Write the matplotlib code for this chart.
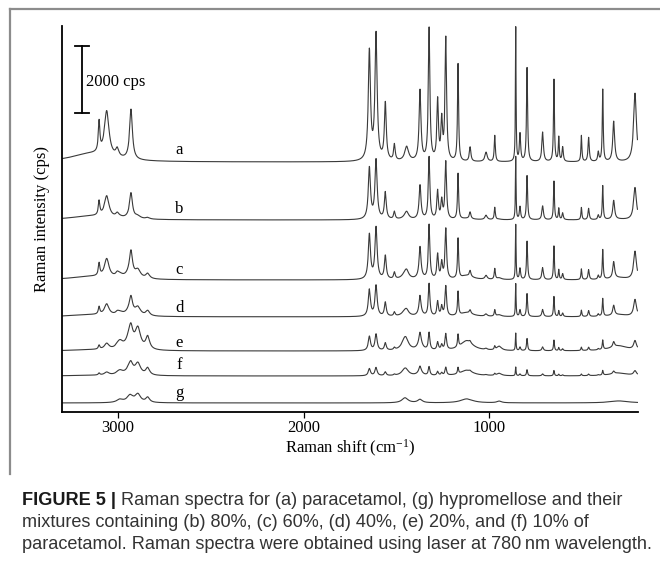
import matplotlib
matplotlib.use("Agg")
import matplotlib.pyplot as plt
import numpy as np
from matplotlib.lines import Line2D

# spectra: a = paracetamol, g = hypromellose, b-f mixtures
labels = ["a", "b", "c", "d", "e", "f", "g"]
offsets = [7460, 5730, 3940, 2840, 1820, 1075, 270]      # cps, baseline of each trace
label_y = [7820, 6060, 4240, 3105, 2060, 1400, 570]
para_scale = [1.0, 0.47, 0.41, 0.245, 0.13, 0.065, 0.0]
hpmc_scale = [0.0, 0.3, 1.0, 1.0, 2.5, 1.4, 1.0]

para_pos = [3150, 3102, 3061, 3004, 2930, 1645, 1609, 1559, 1510, 1444, 1372,
            1323, 1277, 1255, 1233, 1167, 1102, 1016, 969, 856, 833, 795, 711,
            650, 624, 603, 502, 463, 411, 387, 328, 213]
para_height = [240, 900, 1350, 240, 1500, 3250, 3750, 1700, 480, 430, 2100,
               3950, 1780, 1150, 3650, 2900, 430, 280, 780, 4000, 820, 2800, 880,
               2450, 720, 430, 780, 720, 280, 2150, 1200, 2050]
para_width = [250, 10, 30, 20, 18, 14, 14, 12, 10, 25, 12,
              10, 10, 10, 10, 7, 10, 15, 7, 4, 8, 7, 10,
              6, 6, 8, 6, 8, 8, 6, 12, 18]

hpmc_pos = [2990, 2935, 2893, 2840, 1453, 1372, 1120, 945, 300]
hpmc_height = [90, 210, 240, 150, 150, 100, 120, 50, 60]
hpmc_width = [40, 40, 35, 25, 40, 30, 80, 30, 120]

xticks = [3000, 2000, 1000]

plt.rcParams["font.family"] = "Liberation Serif"
plt.rcParams["mathtext.default"] = "regular"


def band_sum(x, pos, height, width):
    y = np.zeros_like(x)
    for c, h, w in zip(pos, height, width):
        y += h / (1 + ((x - c) / (w / 2.0)) ** 2)
    return y


wn = np.arange(200, 3300.5, 0.5)
para = band_sum(wn, para_pos, para_height, para_width)
hpmc = band_sum(wn, hpmc_pos, hpmc_height, hpmc_width)

fig = plt.figure(figsize=(6.6, 5.67), dpi=100)
ax = fig.add_axes([62/660, 1-412/567, 576/660, 386/567])

for i in range(len(labels)):
    y = offsets[i] + para_scale[i]*para + hpmc_scale[i]*hpmc
    ax.plot(wn, y, color="#3a3a3a", lw=0.8)
    ax.text(2670, label_y[i], labels[i], fontsize=12, ha="center", va="center")

# 2000 cps scale bar
ax.plot([3194, 3194], [8925, 10925], color="black", lw=1.3)
ax.plot([3232, 3158], [8925, 8925], color="black", lw=1.3)
ax.plot([3232, 3158], [10925, 10925], color="black", lw=1.3)
ax.text(3174, 9850, "2000 cps", fontsize=12, va="center", ha="left")

ax.set_xlim(3302, 197)
ax.set_ylim(0, 11520)
ax.set_xticks(xticks)
ax.set_xticklabels([str(t) for t in xticks], fontsize=12)
ax.set_yticks([])
ax.tick_params(axis="x", direction="out", length=4, width=0.9, pad=2)
for s in ["top", "right"]:
    ax.spines[s].set_visible(False)
for s in ["left", "bottom"]:
    ax.spines[s].set_linewidth(1.3)
ax.set_xlabel(r"Raman shift (cm$^{-1}$)", fontsize=12)
ax.xaxis.set_label_coords(0.5, -0.068)
ax.set_ylabel("Raman intensity (cps)", fontsize=12)
ax.yaxis.set_label_coords(-0.02, 0.5)

# frame around the figure panel
fig.add_artist(Line2D([10/660, 1.0], [1-9/567, 1-9/567], color="#8c8c8c", lw=1.6,
                      transform=fig.transFigure))
fig.add_artist(Line2D([10/660, 10/660], [1-9/567, 1-474/567], color="#8c8c8c", lw=1.6,
                      transform=fig.transFigure))

# caption
cap_rest = ["Raman spectra for (a) paracetamol, (g) hypromellose and their",
            "mixtures containing (b) 80%, (c) 60%, (d) 40%, (e) 20%, and (f) 10% of",
            "paracetamol. Raman spectra were obtained using laser at 780\u2009nm wavelength."]
cap_base = [505, 527, 549]
cap_col = "#333333"
cap_font = ["Liberation Sans", "DejaVu Sans"]

fig.canvas.draw()
rend = fig.canvas.get_renderer()
probe = fig.text(22/660, 0.5, cap_rest[2], fontsize=11, family=cap_font)
fs = 11 * 628 / probe.get_window_extent(rend).width
probe.remove()

tb = fig.text(22/660, 1-cap_base[0]/567, "FIGURE 5 |", fontsize=fs, weight="bold",
              family=cap_font, color="#1a1a1a", va="baseline")
bw = tb.get_window_extent(rend).width
fig.text((22 + bw + 5)/660, 1-cap_base[0]/567, cap_rest[0], fontsize=fs,
         family=cap_font, color=cap_col, va="baseline")
for k in [1, 2]:
    fig.text(22/660, 1-cap_base[k]/567, cap_rest[k], fontsize=fs,
             family=cap_font, color=cap_col, va="baseline")

fig.savefig("out.png", dpi=100)
